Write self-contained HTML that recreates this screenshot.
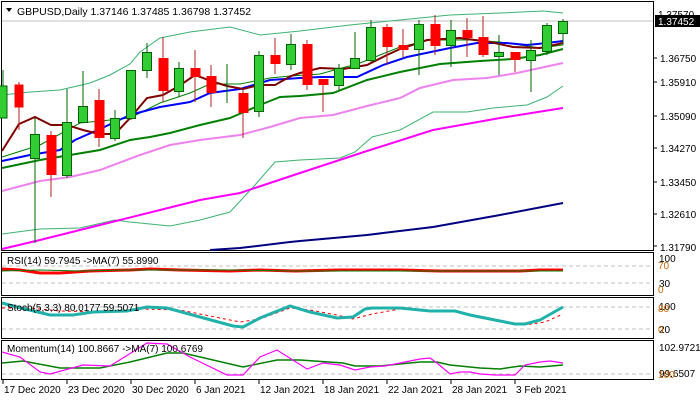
<!DOCTYPE html>
<html><head><meta charset="utf-8"><style>
html,body{margin:0;padding:0;background:#fff;}
svg{display:block;font-family:"Liberation Sans",sans-serif;font-size:10px;}
</style></head><body>
<svg width="700" height="400" viewBox="0 0 700 400" xmlns="http://www.w3.org/2000/svg">
<rect width="700" height="400" fill="#fff"/>
<!-- panels -->
<g fill="none" stroke="#000" stroke-width="1">
<rect x="1.5" y="1.5" width="652" height="249"/>
<rect x="1.5" y="252.5" width="652" height="43"/>
<rect x="1.5" y="297.5" width="652" height="41"/>
<rect x="1.5" y="340.5" width="652" height="39"/>
</g>
<line x1="2" y1="21" x2="653" y2="21" stroke="#c0c0c0"/>
<!-- Bollinger -->
<g fill="none" stroke="#3cb371" stroke-width="1">
<polyline points="2,95 30,92 60,90 90,83 110,75 130,64 140,52 160,38 190,32 230,27 260,35 280,33 300,31 350,25 400,20 450,15 500,13 543,11 563,13"/>
<polyline points="2,234 40,229 80,228 115,220 130,222 170,226 200,220 230,212 255,185 275,162 300,160 340,158 355,152 372,137 400,130 433,112 467,112 493,108 527,105 547,97 563,86"/>
</g>
<polyline fill="none" stroke="#000080" stroke-width="2" points="210,250 240,248 290,242 300,241 367,235 433,227 500,215 563,203"/>
<polyline fill="none" stroke="#ff00ff" stroke-width="2" points="2,249 40,240 80,230 120,220 160,210 200,200 240,193 270,183 300,173 367,151 433,130 500,118 563,108"/>
<polyline fill="none" stroke="#ee82ee" stroke-width="2" points="2,191 40,181 70,177 100,170 140,155 170,145 200,140 240,135 270,127 300,118 333,115 367,106 400,98 420,88 453,80 487,78 517,73 563,63"/>
<polyline fill="none" stroke="#008000" stroke-width="2" points="2,168 40,160 70,155 100,150 130,140 150,137 170,133 200,125 230,118 260,105 280,97 300,96 333,93 367,80 400,72 440,64 480,61 513,59 540,55 563,49"/>
<polyline fill="none" stroke="#008000" stroke-width="1" points="2,157 40,145 80,123 130,118 160,103 190,93 210,84 240,84 270,78 290,76 320,74 360,63 400,47 430,40 470,40 500,42 540,48 563,45"/>
<polyline fill="none" stroke="#0000ff" stroke-width="2" points="2,161 30,155 60,150 75,140 100,129 130,115 160,107 190,102 210,93 240,89 270,80 300,78 320,77 357,77 383,65 407,57 450,48 477,43 507,43 527,45 547,43 563,41"/>
<polyline fill="none" stroke="#800000" stroke-width="2" points="2,151 19,124 35,117 51,125 67,125 83,130 99,134 115,134 131,117 147,98 163,95 179,86 195,75 211,81 227,86 243,89 259,85 275,85 291,76 300,73 320,68 343,69 367,65 387,55 400,49 427,40 460,38 490,42 513,47 540,48 563,43"/>
<!-- candles -->
<g stroke-width="1">
<g stroke="#006400"><line x1="3" y1="70" x2="3" y2="118"/><rect x="-2" y="86" width="9" height="32" fill="#32cd32"/></g>
<g stroke="#b22222"><line x1="19" y1="82" x2="19" y2="130"/><rect x="14.5" y="84.5" width="9" height="23" fill="#ff0000" stroke="none"/></g>
<g stroke="#006400"><line x1="35" y1="118" x2="35" y2="243"/><rect x="30.5" y="134.5" width="9" height="24" fill="#32cd32"/></g>
<g stroke="#b22222"><line x1="51" y1="131" x2="51" y2="197"/><rect x="46.5" y="135" width="10" height="40" fill="#ff0000" stroke="none"/></g>
<g stroke="#006400"><line x1="67" y1="89" x2="67" y2="178"/><rect x="62.5" y="122.5" width="9" height="53" fill="#32cd32"/></g>
<g stroke="#006400"><line x1="83" y1="71" x2="83" y2="122"/><rect x="78.5" y="106.5" width="9" height="16" fill="#32cd32"/></g>
<g stroke="#b22222"><line x1="99" y1="89" x2="99" y2="147"/><rect x="94.5" y="100" width="10" height="38" fill="#ff0000" stroke="none"/></g>
<g stroke="#006400"><line x1="115" y1="110" x2="115" y2="141"/><rect x="110.5" y="118.5" width="9" height="20" fill="#32cd32"/></g>
<g stroke="#006400"><line x1="131" y1="70" x2="131" y2="120"/><rect x="126.5" y="70.5" width="9" height="48" fill="#32cd32"/></g>
<g stroke="#006400"><line x1="147" y1="43" x2="147" y2="78"/><rect x="142.5" y="52.5" width="9" height="18" fill="#32cd32"/></g>
<g stroke="#b22222"><line x1="163" y1="37" x2="163" y2="102"/><rect x="158.5" y="58" width="10" height="33" fill="#ff0000" stroke="none"/></g>
<g stroke="#006400"><line x1="179" y1="62" x2="179" y2="97"/><rect x="174.5" y="68.5" width="9" height="23" fill="#32cd32"/></g>
<g stroke="#b22222"><line x1="195" y1="50" x2="195" y2="102"/><rect x="190.5" y="68" width="10" height="9" fill="#ff0000" stroke="none"/></g>
<g stroke="#b22222"><line x1="211" y1="65" x2="211" y2="107"/><rect x="206.5" y="76" width="10" height="17" fill="#ff0000" stroke="none"/></g>
<g stroke="#006400"><line x1="227" y1="64" x2="227" y2="103"/></g>
<g stroke="#b22222"><line x1="243" y1="90" x2="243" y2="138"/><rect x="238.5" y="93" width="10" height="20" fill="#ff0000" stroke="none"/></g>
<g stroke="#006400"><line x1="259" y1="51" x2="259" y2="117"/><rect x="254.5" y="55.5" width="9" height="56" fill="#32cd32"/></g>
<g stroke="#b22222"><line x1="275" y1="38" x2="275" y2="74"/><rect x="270.5" y="55" width="10" height="9" fill="#ff0000" stroke="none"/></g>
<g stroke="#006400"><line x1="291" y1="34" x2="291" y2="70"/><rect x="286.5" y="44.5" width="9" height="20" fill="#32cd32"/></g>
<g stroke="#b22222"><line x1="307" y1="40" x2="307" y2="90"/><rect x="302.5" y="44" width="10" height="41" fill="#ff0000" stroke="none"/></g>
<g stroke="#b22222"><line x1="323" y1="79" x2="323" y2="112"/><rect x="318.5" y="79" width="10" height="6" fill="#ff0000" stroke="none"/></g>
<g stroke="#006400"><line x1="339" y1="64" x2="339" y2="90"/><rect x="334.5" y="68.5" width="9" height="17" fill="#32cd32"/></g>
<g stroke="#006400"><line x1="355" y1="32" x2="355" y2="68"/><rect x="350.5" y="58.5" width="9" height="10" fill="#32cd32"/></g>
<g stroke="#006400"><line x1="371" y1="20" x2="371" y2="62"/><rect x="366.5" y="27.5" width="9" height="33" fill="#32cd32"/></g>
<g stroke="#b22222"><line x1="387" y1="24" x2="387" y2="65"/><rect x="382.5" y="27" width="10" height="20" fill="#ff0000" stroke="none"/></g>
<g stroke="#b22222"><line x1="403" y1="29" x2="403" y2="58"/><rect x="398.5" y="45" width="10" height="5" fill="#ff0000" stroke="none"/></g>
<g stroke="#006400"><line x1="419" y1="20" x2="419" y2="75"/><rect x="414.5" y="24.5" width="9" height="25" fill="#32cd32"/></g>
<g stroke="#b22222"><line x1="435" y1="15" x2="435" y2="55"/><rect x="430.5" y="24" width="10" height="22" fill="#ff0000" stroke="none"/></g>
<g stroke="#006400"><line x1="451" y1="20" x2="451" y2="67"/><rect x="446.5" y="30.5" width="9" height="15" fill="#32cd32"/></g>
<g stroke="#b22222"><line x1="467" y1="18" x2="467" y2="57"/><rect x="462.5" y="30" width="10" height="8" fill="#ff0000" stroke="none"/></g>
<g stroke="#b22222"><line x1="483" y1="16" x2="483" y2="57"/><rect x="478.5" y="37" width="10" height="18" fill="#ff0000" stroke="none"/></g>
<g stroke="#006400"><line x1="499" y1="35" x2="499" y2="75"/><rect x="494.5" y="52.5" width="9" height="4" fill="#32cd32"/></g>
<g stroke="#b22222"><line x1="515" y1="52" x2="515" y2="72"/><rect x="510.5" y="52" width="10" height="8" fill="#ff0000" stroke="none"/></g>
<g stroke="#006400"><line x1="531" y1="40" x2="531" y2="92"/><rect x="526.5" y="50.5" width="9" height="10" fill="#32cd32"/></g>
<g stroke="#006400"><line x1="547" y1="23" x2="547" y2="55"/><rect x="542.5" y="25.5" width="9" height="26" fill="#32cd32"/></g>
<g stroke="#006400"><line x1="563" y1="19" x2="563" y2="45"/><rect x="558.5" y="21.5" width="9" height="12" fill="#32cd32"/></g>
</g>
<!-- header -->
<path d="M6,8 L12,8 L9,12 Z" fill="#000"/>
<text x="17" y="15" font-size="10.5">GBPUSD,Daily  1.37146 1.37485 1.36798 1.37452</text>
<!-- price axis -->
<g font-size="10" fill="#000">
<text x="658" y="18">1.37570</text>
<rect x="655" y="15" width="45" height="12" fill="#000"/>
<text x="658" y="25" fill="#fff">1.37452</text>
<text x="660" y="62">1.36750</text>
<text x="660" y="86">1.35910</text>
<text x="660" y="120">1.35090</text>
<text x="660" y="152">1.34270</text>
<text x="660" y="186">1.33450</text>
<text x="660" y="218">1.32610</text>
<text x="660" y="251">1.31790</text>
</g>
<g stroke="#000"><line x1="654" y1="58" x2="657" y2="58"/><line x1="654" y1="82" x2="657" y2="82"/><line x1="654" y1="116" x2="657" y2="116"/><line x1="654" y1="148" x2="657" y2="148"/><line x1="654" y1="182" x2="657" y2="182"/><line x1="654" y1="214" x2="657" y2="214"/><line x1="654" y1="246" x2="657" y2="246"/></g>
<!-- RSI -->
<g stroke="#c0c0c0" stroke-dasharray="4,3"><line x1="2" y1="266" x2="653" y2="266"/><line x1="2" y1="283" x2="653" y2="283"/>
<line x1="2" y1="307" x2="653" y2="307"/><line x1="2" y1="329" x2="653" y2="329"/><line x1="2" y1="374" x2="653" y2="374"/></g>
<polyline fill="none" stroke="#ff0000" stroke-width="3" points="2,269 20,270 40,273 60,273 90,271 130,270 150,269 180,270 230,271 260,270 295,271 340,270 400,270 440,271 480,271 520,271 540,270 563,270"/>
<polyline fill="none" stroke="#008000" stroke-width="1" points="2,271 40,270 80,271 130,270 180,270 230,270 295,271 340,271 400,271 480,271 520,271 563,271"/>
<text x="7" y="264" font-size="10">RSI(14) 59.7945  -&gt;MA(7) 55.8990</text>
<g font-size="10"><text x="659" y="262">100</text><text x="658" y="269" fill="#cc6600">70</text><text x="659" y="287">30</text><text x="658" y="293" fill="#cc6600">0</text></g>
<!-- Stoch -->
<polyline fill="none" stroke="#ff0000" stroke-width="1" stroke-dasharray="3,3" points="2,308 30,308 60,311 100,312 140,309 180,310 220,318 240,322 260,319 290,308 310,310 337,315 353,319 372,314 400,309 430,310 455,312 480,318 505,322 525,325 545,322 563,314"/>
<polyline fill="none" stroke="#20b2aa" stroke-width="3" points="2,303 17,307 50,315 73,315 93,312 127,311 147,307 167,308 200,317 233,326 243,327 260,318 290,306 310,312 337,318 353,317 365,309 372,308 400,308 430,311 455,311 470,315 485,318 505,322 515,324 525,324 540,320 563,307"/>
<text x="7" y="311" font-size="10">Stoch(5,3,3) 80.0177 59.5071</text>
<g font-size="10"><text x="659" y="310">100</text><text x="658" y="312" fill="#cc6600">80</text><text x="659" y="333">20</text><text x="658" y="333" fill="#cc6600">0</text></g>
<!-- Momentum -->
<polyline fill="none" stroke="#008000" stroke-width="1.5" points="2,363 23,361 60,368 100,368 130,362 167,353 183,353 243,367 277,360 300,360 343,363 355,366 380,366 420,362 437,362 450,365 480,368 500,369 520,366 540,367 563,365"/>
<polyline fill="none" stroke="#ff00ff" stroke-width="1.2" points="2,352 20,357 40,372 50,374 83,365 110,366 147,343 167,344 190,357 227,375 243,375 260,357 277,350 307,369 323,363 340,365 355,370 370,367 385,366 395,364 410,361 420,359 430,358 437,363 450,374 460,372 470,372 480,374 495,375 515,375 525,365 540,362 550,361 563,363"/>
<text x="7" y="352" font-size="10">Momentum(14) 100.8667  -&gt;MA(7) 100.6769</text>
<g font-size="10"><text x="659" y="351">102.9721</text><text x="659" y="377">99.6507</text><text x="658" y="378" fill="#cc6600">100</text></g>
<!-- dates -->
<g stroke="#000"><line x1="3" y1="380" x2="3" y2="384"/><line x1="67" y1="380" x2="67" y2="384"/><line x1="131" y1="380" x2="131" y2="384"/><line x1="195" y1="380" x2="195" y2="384"/><line x1="259" y1="380" x2="259" y2="384"/><line x1="323" y1="380" x2="323" y2="384"/><line x1="387" y1="380" x2="387" y2="384"/><line x1="451" y1="380" x2="451" y2="384"/><line x1="515" y1="380" x2="515" y2="384"/></g>
<g font-size="10"><text x="4" y="393">17 Dec 2020</text><text x="68" y="393">23 Dec 2020</text><text x="132" y="393">30 Dec 2020</text><text x="196" y="393">6 Jan 2021</text><text x="260" y="393">12 Jan 2021</text><text x="324" y="393">18 Jan 2021</text><text x="388" y="393">22 Jan 2021</text><text x="452" y="393">28 Jan 2021</text><text x="516" y="393">3 Feb 2021</text></g>
</svg>
</body></html>
